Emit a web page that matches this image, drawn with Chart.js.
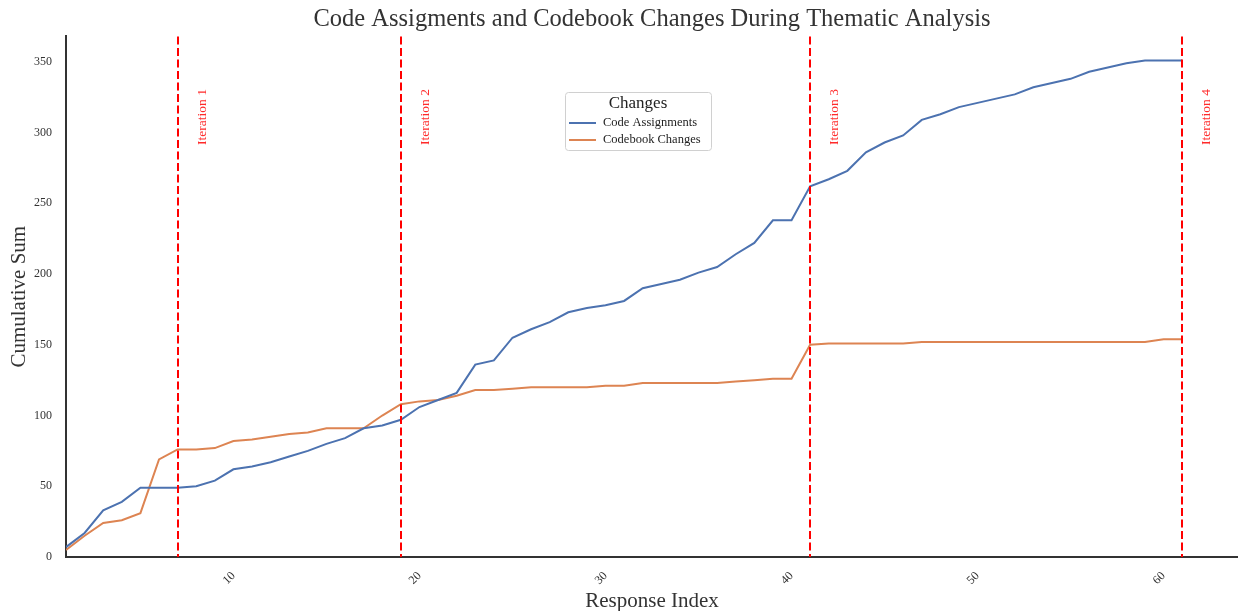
<!DOCTYPE html>
<html>
<head>
<meta charset="utf-8">
<script src="https://cdn.jsdelivr.net/npm/chart.js@4.4.1/dist/chart.umd.min.js"></script>
<style>
body{margin:0;background:#fff;}
#wrap{width:1238px;height:611px;}
</style>
</head>
<body>
<div id="wrap"><canvas id="codesChart" width="1238" height="611"></canvas></div>
<script>
const responseIndex=[1,2,3,4,5,6,7,8,9,10,11,12,13,14,15,16,17,18,19,20,21,22,23,24,25,26,27,28,29,30,31,32,33,34,35,36,37,38,39,40,41,42,43,44,45,46,47,48,49,50,51,52,53,54,55,56,57,58,59,60,61];

const codeAssignments=[7,17,33,39,49,49,49,50,54,62,64,67,71,75,80,84,91,93,97,106,111,116,136,139,155,161,166,173,176,178,181,190,193,196,201,205,214,222,238,238,262,267,273,286,293,298,309,313,318,321,324,327,332,335,338,343,346,349,351,351,351];

const codebookChanges=[5,15,24,26,31,69,76,76,77,82,83,85,87,88,91,91,91,100,108,110,111,114,118,118,119,120,120,120,120,121,121,123,123,123,123,123,124,125,126,126,150,151,151,151,151,151,152,152,152,152,152,152,152,152,152,152,152,152,152,154,154];

const iterations=[7,19,41,61];
const iterationLabels=["Iteration 1","Iteration 2","Iteration 3","Iteration 4"];

const xTicks=[10,20,30,40,50,60];
const yTicks=[0,50,100,150,200,250,300,350];

const serif="'Liberation Serif','DejaVu Serif',serif";

// vertical iteration lines + custom legend box
const extras={
id:"extras",
afterDatasetsDraw(chart){
const {ctx,chartArea,scales}=chart;
const x=scales.x,y=scales.y;
ctx.save();
ctx.strokeStyle="#ff0000";
ctx.lineWidth=2;
ctx.setLineDash([8,3.5]);
iterations.forEach((it,i)=>{
const px=Math.round(x.getPixelForValue(it));
ctx.beginPath();
ctx.moveTo(px,chartArea.top);
ctx.lineTo(px,chartArea.bottom);
ctx.stroke();
ctx.save();
ctx.translate(px+24,y.getPixelForValue(311));
ctx.rotate(-Math.PI/2);
ctx.fillStyle="#ff2a2a";
ctx.font="13.5px "+serif;
ctx.textAlign="center";
ctx.textBaseline="middle";
ctx.fillText(iterationLabels[i],0,0);
ctx.restore();
});
ctx.setLineDash([]);

// legend
const lx=565,ly=92,lw=146,lh=58;
ctx.fillStyle="rgba(255,255,255,0.85)";
ctx.strokeStyle="#d0d0d0";
ctx.lineWidth=1;
ctx.beginPath();
ctx.roundRect(lx+0.5,ly+0.5,lw,lh,3);
ctx.fill();
ctx.stroke();
ctx.fillStyle="#222";
ctx.font="17px "+serif;
ctx.textAlign="center";
ctx.textBaseline="middle";
ctx.fillText("Changes",lx+lw/2,ly+12);
ctx.font="12.5px "+serif;
ctx.textAlign="left";
chart.data.datasets.forEach((ds,i)=>{
const yy=ly+31+i*17;
ctx.strokeStyle=ds.borderColor;
ctx.lineWidth=2;
ctx.beginPath();
ctx.moveTo(lx+4,yy);
ctx.lineTo(lx+31,yy);
ctx.stroke();
ctx.fillStyle="#222";
ctx.fillText(ds.label,lx+38,yy);
});
ctx.restore();
}
};

new Chart(document.getElementById("codesChart"),{
type:"line",
data:{
datasets:[{
label:"Code Assignments",
data:responseIndex.map((r,i)=>({x:r,y:codeAssignments[i]})),
borderColor:"#4C72B0",
borderWidth:2,
pointRadius:0,
tension:0
},{
label:"Codebook Changes",
data:responseIndex.map((r,i)=>({x:r,y:codebookChanges[i]})),
borderColor:"#DD8452",
borderWidth:2,
pointRadius:0,
tension:0
}]
},
options:{
responsive:false,
animation:false,
layout:{padding:{left:0,right:0,top:0,bottom:0}},
plugins:{
legend:{display:false},
tooltip:{enabled:false},
title:{
display:true,
fullSize:false,
text:"Code Assigments and Codebook Changes During Thematic Analysis",
color:"#333",
font:{family:serif,size:24.5,weight:"normal"},
padding:{top:5,bottom:2}
}
},
scales:{
x:{
type:"linear",
min:1,
max:64,
afterBuildTicks(axis){axis.ticks=xTicks.map(v=>({value:v}));},
afterFit(axis){axis.height=54;},
grid:{display:false,drawTicks:false},
border:{display:true,color:"#333",width:2},
ticks:{
color:"#333",
font:{family:serif,size:12},
maxRotation:45,
minRotation:45,
padding:12
},
title:{
display:true,
text:"Response Index",
color:"#333",
font:{family:serif,size:21},
padding:{top:0,bottom:-3}
}
},
y:{
min:0,
max:368,
afterBuildTicks(axis){axis.ticks=yTicks.map(v=>({value:v}));},
afterFit(axis){axis.width=66;},
grid:{display:false,drawTicks:false},
border:{display:true,color:"#333",width:2},
ticks:{
color:"#333",
font:{family:serif,size:12},
padding:14
},
title:{
display:true,
text:"Cumulative Sum",
color:"#333",
font:{family:serif,size:21},
padding:{top:7,bottom:0}
}
}
}
},
plugins:[extras]
});
</script>
</body>
</html>
